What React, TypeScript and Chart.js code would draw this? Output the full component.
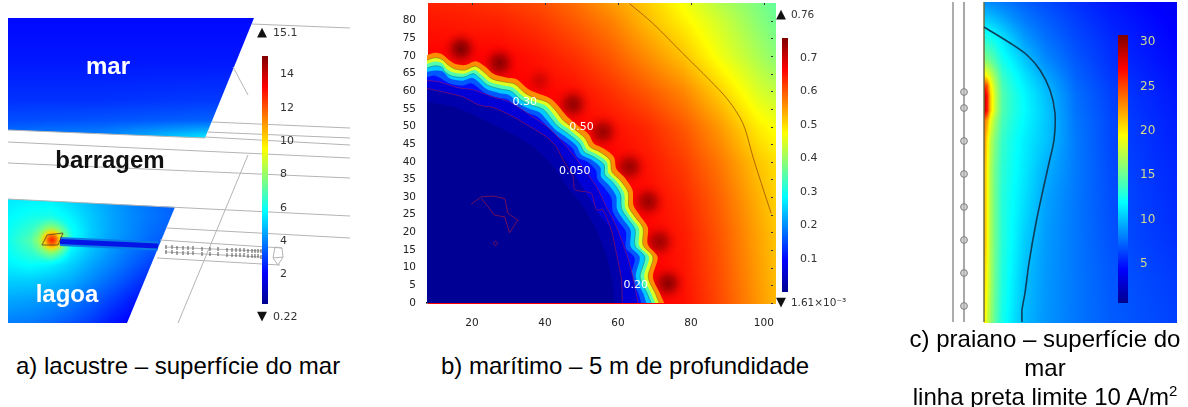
import React, { useEffect, useRef } from "react";
import { Chart, registerables } from "chart.js";

Chart.register(...registerables);

type Pt = { x: number; y: number };
const pts = (a: number[][]): Pt[] => a.map(([x, y]) => ({ x, y }));

/* ---------- Panel a: lacustre ---------- */
const marXs = [8, 100, 205, 254];
const marYs = [18, 60, 100, 120, 130, 138];
const marVals = [
  [2.2, 2.2, 2.2, 2.2],
  [2.4, 2.4, 2.4, 2.4],
  [2.8, 2.8, 2.9, 2.9],
  [3.2, 3.3, 3.5, 3.5],
  [3.6, 3.8, 4.6, 4.6],
  [3.8, 4.0, 5.6, 5.6],
];
const marOutline = [[8, 18], [254, 18], [205, 138], [8, 130]];

const lagoaXs = [8, 30, 50, 70, 90, 110, 130, 150, 175];
const lagoaYs = [199, 215, 230, 240, 250, 265, 280, 300, 323];
const lagoaVals = [
  [5.5, 5.6, 5.6, 5.2, 4.8, 4.4, 4.0, 3.7, 3.4],
  [5.7, 6.0, 6.1, 5.6, 5.0, 4.5, 4.1, 3.8, 3.5],
  [5.9, 6.6, 7.5, 6.0, 5.1, 4.5, 4.1, 3.7, 3.4],
  [6.0, 7.0, 9.0, 6.0, 5.0, 4.4, 4.0, 3.6, 3.2],
  [5.9, 6.6, 7.5, 5.7, 4.9, 4.3, 3.8, 3.4, 3.0],
  [5.6, 5.8, 5.6, 5.1, 4.5, 4.0, 3.5, 3.0, 2.6],
  [5.1, 5.1, 4.9, 4.6, 4.1, 3.6, 3.1, 2.6, 2.2],
  [4.5, 4.4, 4.2, 3.9, 3.5, 3.0, 2.5, 2.1, 1.8],
  [3.9, 3.8, 3.6, 3.3, 2.9, 2.4, 2.0, 1.7, 1.5],
];
const lagoaOutline = [[8, 199], [175, 207], [127, 323], [8, 323]];

const sceneLines = [
  [[252, 24], [350, 28]],
  [[233, 67], [248, 95]],
  [[212, 122], [350, 128]],
  [[207, 132], [350, 138]],
  [[205, 137], [350, 145]],
  [[8, 130], [205, 138]],
  [[8, 142], [350, 158]],
  [[8, 163], [350, 178]],
  [[8, 199], [350, 216]],
  [[167, 228], [350, 238]],
  [[248, 155], [178, 323]],
  [[160, 240], [282, 248]],
  [[157, 258], [280, 265]],
  [[165, 247], [261, 251]],
  [[165, 252], [261, 257]],
  [[282, 248], [283, 257], [278, 265], [273, 258], [275, 247], [282, 248]],
  [[273, 258], [283, 257]],
];
const electrodeRowA = [[166, 247], [172, 247], [177, 248], [183, 248], [188, 248], [193, 248], [202, 249], [210, 249], [218, 249], [227, 250], [232, 250], [236, 250], [240, 250], [244, 250], [248, 251], [252, 251], [255, 251], [258, 251], [261, 251]];
const electrodeRowB = [[166, 252], [172, 252], [177, 253], [183, 253], [188, 253], [193, 253], [202, 254], [210, 254], [218, 254], [227, 255], [232, 255], [236, 255], [240, 255], [244, 255], [248, 256], [252, 256], [255, 256], [258, 256], [261, 257]];
const tubeAxis = [[60, 241.5], [158, 246]];
const hotOutline = [[42, 245], [47, 235], [63, 233], [58, 245], [42, 245]];
const hotSpot = [{ x: 52, y: 240, r: 22 }];

/* ---------- Panel b: marítimo ---------- */
const fieldXs = [8, 18, 28, 38, 48, 58, 68, 78, 88, 98, 103];
const fieldYs = [0, 10, 20, 30, 40, 50, 60, 70, 80, 85];
const fieldVals = [
  [0.67, 0.67, 0.67, 0.67, 0.67, 0.67, 0.67, 0.655, 0.61, 0.555, 0.53],
  [0.67, 0.67, 0.67, 0.67, 0.67, 0.67, 0.67, 0.65, 0.605, 0.55, 0.525],
  [0.67, 0.67, 0.67, 0.67, 0.67, 0.67, 0.665, 0.645, 0.6, 0.545, 0.52],
  [0.67, 0.67, 0.67, 0.67, 0.67, 0.67, 0.66, 0.635, 0.59, 0.535, 0.51],
  [0.67, 0.67, 0.67, 0.67, 0.67, 0.665, 0.65, 0.62, 0.575, 0.52, 0.5],
  [0.67, 0.67, 0.67, 0.67, 0.665, 0.655, 0.635, 0.6, 0.55, 0.49, 0.47],
  [0.67, 0.67, 0.67, 0.665, 0.655, 0.63, 0.6, 0.565, 0.51, 0.45, 0.43],
  [0.665, 0.665, 0.665, 0.65, 0.63, 0.6, 0.56, 0.52, 0.465, 0.415, 0.39],
  [0.65, 0.645, 0.64, 0.625, 0.6, 0.57, 0.525, 0.485, 0.44, 0.39, 0.37],
  [0.64, 0.635, 0.625, 0.61, 0.585, 0.55, 0.515, 0.47, 0.42, 0.38, 0.36],
];
const spots = [
  { x: 17, y: 72, r: 20 }, { x: 27.6, y: 68, r: 20 }, { x: 38.6, y: 63, r: 17 },
  { x: 47.7, y: 56.3, r: 20 }, { x: 55.9, y: 48.5, r: 20 }, { x: 63.2, y: 38.6, r: 20 },
  { x: 68.3, y: 28.7, r: 20 }, { x: 71.4, y: 17.4, r: 20 }, { x: 73.7, y: 5.6, r: 20 },
];
const spotStrength = [1, 0.9, 0.35, 0.85, 0.8, 0.8, 0.8, 0.75, 0.9];

const c60 = [[7.7, 70.2], [9.9, 70.9], [11.8, 70.5], [13.8, 68.8], [15.6, 67.7], [18.2, 67.4], [21, 68.5], [23.5, 67.1], [26, 64.9], [29.4, 63.9], [32.3, 63.4], [35.2, 60.8], [38, 59.4], [41.4, 58], [43.7, 55.8], [46, 52.9], [48.7, 50.6], [52, 47.8], [53.4, 45.2], [56.1, 43.8], [58.9, 41.4], [59.6, 38], [61.8, 35.6], [64, 32], [64.3, 27.6], [66, 24.8], [68.2, 21.4], [68.2, 16.6], [70.9, 13], [69.6, 7.4], [71.5, 2.8], [72.7, 0]];
const c50 = [[7.7, 68.8], [9.9, 69.5], [11.8, 69], [13.5, 67.4], [15.4, 66.3], [18.1, 66], [20.9, 67.1], [23, 65.7], [25.5, 63.5], [29, 62.6], [31.8, 62], [34.5, 59.5], [37.2, 58.1], [40.6, 56.9], [42.8, 54.7], [45, 51.8], [47.7, 49.6], [51, 46.7], [52.4, 44.2], [55.1, 42.8], [57.8, 40.5], [58.4, 37.1], [60.6, 34.8], [62.8, 31.4], [63, 27.2], [64.7, 24.4], [66.9, 21.2], [66.9, 16.4], [69.6, 13], [68.3, 7.4], [70.2, 2.8], [71.3, 0]];
const c40 = [[7.7, 67.7], [9.9, 68.4], [11.8, 67.9], [13, 66.4], [15, 65.3], [18, 65], [20.7, 66], [22.5, 64.7], [25, 62.6], [28.6, 61.6], [31.3, 61], [34, 58.6], [36.6, 57.2], [40, 56], [42, 53.9], [44.2, 51], [47, 48.9], [50.2, 46], [51.6, 43.5], [54.3, 42.1], [57, 39.9], [57.4, 36.8], [59.6, 34.5], [61.7, 31.1], [62, 27], [63.6, 24.2], [65.8, 21], [65.8, 16.3], [68.5, 13], [67.2, 7.4], [69.1, 2.8], [70.2, 0]];
const c29 = [[7.7, 66.6], [9.9, 67.2], [11.8, 66.8], [12.6, 65.5], [14.6, 64.3], [17.8, 64], [20.4, 65], [22, 63.8], [24.4, 61.7], [28, 60.6], [30.8, 60], [33.4, 57.6], [36, 56.2], [39.4, 55], [41.2, 53], [43.4, 50.2], [46.2, 48.1], [49.4, 45.3], [50.8, 42.8], [53.4, 41.4], [56.2, 39.2], [56.4, 36.4], [58.6, 34.2], [60.7, 30.8], [61, 26.8], [62.6, 24], [64.7, 20.8], [64.7, 16.2], [67.4, 13], [66.1, 7.4], [68, 2.8], [69.1, 0]];
const c20 = [[7.7, 65.5], [10, 65.9], [12, 65.6], [14, 63.6], [17.5, 63], [20, 63.8], [21.6, 62.8], [24, 60.6], [27.4, 59.5], [30.2, 58.9], [32.8, 56.6], [35.4, 55.2], [38.6, 54], [40.4, 52], [42.6, 49.4], [45.4, 47.3], [48.6, 44.6], [50, 42], [52.6, 40.7], [55.2, 38.4], [55.4, 35.8], [57.4, 33.6], [59.5, 30.4], [59.8, 26.5], [61.4, 23.8], [63.5, 20.6], [63.5, 16], [66, 13], [64.9, 7.4], [66.9, 2.8], [67.8, 0]];
const c12 = [[7.7, 64], [10, 64.4], [14, 62.2], [17.5, 61.6], [20, 62.2], [23.5, 59.6], [27, 58.2], [30, 57.6], [32, 55.5], [35, 54], [38, 52.8], [40, 50.8], [42, 48.4], [44.6, 46.3], [47.6, 43.8], [49, 41.2], [51.6, 40], [54, 37.6], [54.4, 35], [56.2, 32.8], [58.2, 29.8], [58.6, 26], [60, 23.4], [62.2, 20.2], [62.2, 15.6], [64.6, 12.7], [63.6, 7.4], [65.6, 2.8], [66.4, 0]];
const c09 = [[7.7, 63.1], [11.2, 62.6], [16.2, 61], [20.3, 60.4], [25.8, 58.4], [30.3, 57], [36.7, 52.7], [41.3, 49.4], [45.9, 44.3], [49.5, 39.6], [54.1, 33], [56.8, 27.3], [59.6, 21.6], [62.3, 14.1], [64.1, 7.5], [65.5, 0]];
const c05 = [[7.7, 60.8], [12.1, 59.8], [17.6, 58.4], [22.1, 56], [25.8, 55.4], [31.3, 52.8], [35.9, 50], [40.4, 47.1], [43.1, 44.3], [46, 40], [49, 35], [52, 30], [55, 25], [58.2, 20.7], [59.6, 14.1], [61, 6.6], [61.2, 0]];
const c02 = [[7.7, 57], [15, 55.5], [22, 52.5], [30, 48.5], [37, 44], [42, 39], [46, 33], [50, 28], [54, 21], [57, 13], [58.5, 6], [59, 0]];
const contourFills = [
  { line: c60, level: 0.56 }, { line: c50, level: 0.45 }, { line: c40, level: 0.345 },
  { line: c29, level: 0.245 }, { line: c20, level: 0.16 }, { line: c12, level: 0.105 },
  { line: c09, level: 0.06 }, { line: c05, level: 0.025 }, { line: c02, level: 0.004 },
];
const redLine050 = [[7.7, 60.8], [12.1, 59.8], [17.6, 58.4], [22.1, 56], [25.8, 55.4], [31.3, 52.8], [35.9, 50], [40.4, 47.1], [43.1, 44.3], [45, 40.5], [47.7, 35.8], [48.2, 32.1], [52.7, 31.1], [54.1, 26.4], [55.9, 26.4], [58.2, 20.7], [59.6, 14.1], [61, 6.6], [61.2, 0.4]];
const islandLine = [[19.8, 28], [22.6, 30.1], [25.8, 30.3], [29, 29.6], [29.9, 25.4], [32.6, 23.5], [30.3, 19.9], [29, 24.4], [26.2, 24.9], [24.4, 27.3], [22.6, 29.6]];
const islandLoop = [[25.8, 16.9], [26.5, 17.6], [27.1, 16.9], [26.5, 16.2], [25.8, 16.9]];
const outerArc = [[63.2, 84.8], [69.6, 79.2], [77.8, 70.7], [85.1, 63.2], [90.2, 57.5], [94.3, 50.8], [97, 41.4], [99.3, 33.9], [102, 25.4]];
const xTicksB = [20, 40, 60, 80, 100];
const yTicksB = [0, 5, 10, 15, 20, 25, 30, 35, 40, 45, 50, 55, 60, 65, 70, 75, 80];

/* ---------- Panel c: praiano ---------- */
const beachXs = [984, 987, 990, 995, 1002, 1012, 1025, 1045, 1075, 1110, 1176];
const beachYs = [2, 20, 40, 60, 75, 85, 95, 110, 120, 140, 170, 200, 240, 280, 322];
const beachVals = [
  [8.5, 8.5, 8.4, 8.3, 8, 7.7, 7.2, 6.6, 5.8, 5, 4],
  [10.5, 10.5, 10.3, 10, 9.5, 8.8, 8, 7.2, 6.2, 5.3, 4.2],
  [13, 13, 12.7, 12.2, 11.3, 10.3, 9, 7.8, 6.6, 5.6, 4.4],
  [16, 15.5, 15, 14, 12.5, 11.5, 10.2, 8.5, 7, 5.8, 4.6],
  [20, 19, 18, 16, 13.5, 12.3, 11, 9.3, 7.3, 6, 4.8],
  [26, 24, 20, 17, 14, 12.7, 11.4, 9.8, 7.5, 6.2, 4.9],
  [29, 26, 21, 17.5, 14.3, 13, 11.7, 10.1, 7.7, 6.3, 5],
  [29, 26, 21, 17.5, 14.3, 13, 11.8, 10.3, 7.8, 6.4, 5.1],
  [24, 22, 19, 16.5, 14, 12.8, 11.7, 10.3, 7.9, 6.5, 5.2],
  [23, 20, 17.5, 15.5, 13.5, 12.4, 11.4, 10.2, 8, 6.5, 5.3],
  [22, 19.5, 17, 15, 13.2, 12.2, 11.2, 9.6, 8, 6.6, 5.5],
  [22, 19.5, 17, 15, 13, 12, 10.9, 9.2, 7.9, 6.7, 5.6],
  [22, 19.5, 17, 15, 13, 11.8, 10.4, 9, 7.9, 6.8, 5.8],
  [21, 19, 17, 14.8, 12.8, 11.5, 10, 8.9, 7.9, 7, 6.1],
  [20, 18, 16.5, 14.5, 12.5, 11.2, 9.8, 8.8, 7.9, 7.1, 6.3],
];
const limit10 = [[984, 27], [1010, 43], [1027, 55], [1040, 70], [1050, 90], [1055, 113], [1054, 140], [1049, 163], [1043, 190], [1036, 223], [1029, 263], [1025, 293], [1022, 310], [1022, 322]];
const railA = [[953, 2], [953, 322]];
const railB = [[964, 2], [964, 322]];
const shoreEdge = [[984, 2], [984, 322]];
const wells = [[964, 92], [964, 108], [964, 141], [964, 174], [964, 207], [964, 240], [964, 273], [964, 306]];

/* ---------- Colour bars ---------- */
const barA = { min: 0.22, max: 15.1, ticks: [2, 4, 6, 8, 10, 12, 14] };
const barB = { min: 0.0016, max: 0.76, ticks: [0.1, 0.2, 0.3, 0.4, 0.5, 0.6, 0.7] };
const barC = { min: 0.6, max: 30.8, ticks: [5, 10, 15, 20, 25, 30] };

/* ---------- Captions ---------- */
const captionA = "a) lacustre – superfície do mar";
const captionB = "b) marítimo – 5 m de profundidade";
const captionC1 = "c) praiano – superfície do";
const captionC2 = "mar";
const captionC3 = "linha preta limite 10 A/m";

const tickFont = '"DejaVu Sans"';

function jetRGB(t: number): [number, number, number] {
  const stops: [number, number[]][] = [
    [0, [0, 0, 143]], [0.125, [0, 0, 255]], [0.375, [0, 255, 255]],
    [0.625, [255, 255, 0]], [0.875, [255, 0, 0]], [1, [128, 0, 0]],
  ];
  const c = Math.max(0, Math.min(1, t));
  for (let i = 1; i < stops.length; i++) {
    if (c <= stops[i][0]) {
      const [a, ca] = stops[i - 1];
      const [b, cb] = stops[i];
      const f = (c - a) / (b - a);
      return [0, 1, 2].map((k) => Math.round(ca[k] + (cb[k] - ca[k]) * f)) as [number, number, number];
    }
  }
  return [128, 0, 0];
}
const jetCss = (t: number, alpha = 1) => {
  const [r, g, b] = jetRGB(t);
  return `rgba(${r},${g},${b},${alpha})`;
};

function seg(arr: number[], v: number): [number, number] {
  let i = 0;
  while (i < arr.length - 2 && v > arr[i + 1]) i++;
  const f = (v - arr[i]) / (arr[i + 1] - arr[i]);
  return [i, Math.max(0, Math.min(1, f))];
}

const scenePlugin = {
  id: "scene",
  beforeDatasetsDraw(chart: any, _a: any, opts: any) {
    const { x: sx, y: sy } = chart.scales;
    const ctx = chart.ctx;
    for (const r of opts.regions || []) {
      const xa = sx.getPixelForValue(r.xs[0]);
      const xb = sx.getPixelForValue(r.xs[r.xs.length - 1]);
      const ya = sy.getPixelForValue(r.ys[0]);
      const yb = sy.getPixelForValue(r.ys[r.ys.length - 1]);
      const x0 = Math.floor(Math.min(xa, xb));
      const y0 = Math.floor(Math.min(ya, yb));
      const w = Math.ceil(Math.abs(xb - xa)) + 1;
      const h = Math.ceil(Math.abs(yb - ya)) + 1;
      const off = document.createElement("canvas");
      off.width = w;
      off.height = h;
      const oc = off.getContext("2d")!;
      const img = oc.createImageData(w, h);
      for (let py = 0; py < h; py++) {
        const [j, fy] = seg(r.ys, sy.getValueForPixel(y0 + py));
        for (let px = 0; px < w; px++) {
          const [i, fx] = seg(r.xs, sx.getValueForPixel(x0 + px));
          const v =
            (r.vals[j][i] * (1 - fx) + r.vals[j][i + 1] * fx) * (1 - fy) +
            (r.vals[j + 1][i] * (1 - fx) + r.vals[j + 1][i + 1] * fx) * fy;
          const [cr, cg, cb] = jetRGB((v - r.min) / (r.max - r.min));
          const o = (py * w + px) * 4;
          img.data[o] = cr;
          img.data[o + 1] = cg;
          img.data[o + 2] = cb;
          img.data[o + 3] = 255;
        }
      }
      oc.putImageData(img, 0, 0);
      ctx.save();
      if (r.clip) {
        ctx.beginPath();
        r.clip.forEach(([x, y]: number[], k: number) => {
          const X = sx.getPixelForValue(x);
          const Y = sy.getPixelForValue(y);
          if (k) ctx.lineTo(X, Y);
          else ctx.moveTo(X, Y);
        });
        ctx.closePath();
        ctx.clip();
      }
      ctx.drawImage(off, x0, y0);
      ctx.restore();
    }
  },
  afterDatasetsDraw(chart: any, _a: any, opts: any) {
    const { x: sx, y: sy } = chart.scales;
    const ctx = chart.ctx;
    for (const l of opts.labels || []) {
      ctx.save();
      ctx.font = l.font;
      ctx.fillStyle = l.color;
      ctx.textAlign = l.align || "center";
      ctx.textBaseline = "middle";
      ctx.fillText(l.text, sx.getPixelForValue(l.x), sy.getPixelForValue(l.y));
      ctx.restore();
    }
    if (opts.mirrorTicks) {
      ctx.save();
      ctx.strokeStyle = "#333";
      ctx.lineWidth = 1;
      const a = chart.chartArea;
      ctx.beginPath();
      sx.ticks.forEach((t: any) => {
        const X = Math.round(sx.getPixelForValue(t.value)) + 0.5;
        ctx.moveTo(X, a.top);
        ctx.lineTo(X, a.top + 2);
      });
      sy.ticks.forEach((t: any) => {
        const Y = Math.round(sy.getPixelForValue(t.value)) + 0.5;
        ctx.moveTo(a.right, Y);
        ctx.lineTo(a.right - 2, Y);
      });
      ctx.stroke();
      ctx.restore();
    }
  },
};
Chart.register(scenePlugin as any);

const lineDs = (data: number[][], color: string, width: number, extra: any = {}) => ({
  type: "line",
  data: pts(data),
  borderColor: color,
  borderWidth: width,
  pointRadius: 0,
  fill: false,
  tension: 0,
  ...extra,
});
const ordered = (list: any[]) => list.map((d, i) => ({ ...d, order: list.length - i }));

const hiddenScales = (x0: number, x1: number, y0: number, y1: number) => ({
  x: { type: "linear", display: false, min: x0, max: x1 },
  y: { type: "linear", display: false, min: y0, max: y1, reverse: true },
});

const fitAxis = (size: { width?: number; height?: number }) => (s: any) => {
  if (size.width) s.width = size.width;
  if (size.height) s.height = size.height;
  s.paddingTop = 0;
  s.paddingBottom = 0;
  s.paddingLeft = 0;
  s.paddingRight = 0;
};

const greyLine = "#b4b4b4";

const radial = (c: any, stops: [number, string][]) => {
  if (!c.raw) return "transparent";
  const X = c.chart.scales.x.getPixelForValue(c.raw.x);
  const Y = c.chart.scales.y.getPixelForValue(c.raw.y);
  if (!Number.isFinite(X) || !Number.isFinite(Y)) return "transparent";
  const g = c.chart.ctx.createRadialGradient(X, Y, 0, X, Y, c.raw.r);
  stops.forEach(([s, col]) => g.addColorStop(s, col));
  return g;
};

const configA = () => ({
  type: "line",
  data: {
    datasets: ordered([
      ...sceneLines.map((l) => lineDs(l, greyLine, 1)),
      {
        type: "bubble",
        data: hotSpot,
        borderWidth: 0,
        backgroundColor: (c: any) =>
          radial(c, [
            [0, "rgba(250,30,0,1)"],
            [0.18, "rgba(255,100,0,1)"],
            [0.36, "rgba(255,215,0,0.95)"],
            [0.62, "rgba(150,255,90,0.55)"],
            [1, "rgba(100,255,170,0)"],
          ]),
      },
      lineDs(tubeAxis, "#0a7ce8", 9),
      lineDs(tubeAxis, "#0414e6", 5),
      lineDs(hotOutline, "rgba(90,60,30,.8)", 1),
      lineDs(electrodeRowA, "transparent", 0, { pointRadius: 2, pointStyle: "line", rotation: 90, pointBorderColor: "#555", pointBorderWidth: 1, showLine: false }),
      lineDs(electrodeRowB, "transparent", 0, { pointRadius: 2, pointStyle: "line", rotation: 90, pointBorderColor: "#555", pointBorderWidth: 1, showLine: false }),
    ]),
  },
  options: {
    responsive: false,
    animation: false,
    events: [],
    layout: { padding: 0, autoPadding: false },
    scales: hiddenScales(0, 360, 10, 330),
    plugins: {
      legend: { display: false },
      tooltip: { enabled: false },
      scene: {
        regions: [
          { xs: marXs, ys: marYs, vals: marVals, min: barA.min, max: barA.max, clip: marOutline },
          { xs: lagoaXs, ys: lagoaYs, vals: lagoaVals, min: barA.min, max: barA.max, clip: lagoaOutline },
        ],
        labels: [
          { text: "mar", x: 108, y: 67, font: 'bold 24px "Liberation Sans"', color: "#fff" },
          { text: "barragem", x: 110, y: 161, font: 'bold 24px "Liberation Sans"', color: "#111" },
          { text: "lagoa", x: 67, y: 295, font: 'bold 24px "Liberation Sans"', color: "#fff" },
          { text: "▲", x: 262, y: 33, font: `13px ${tickFont}`, color: "#111" },
          { text: "15.1", x: 273, y: 33, font: `11px ${tickFont}`, color: "#333", align: "left" },
          { text: "▼", x: 262, y: 317, font: `13px ${tickFont}`, color: "#111" },
          { text: "0.22", x: 273, y: 317, font: `11px ${tickFont}`, color: "#333", align: "left" },
        ],
      },
    },
  },
});

const configB = () => ({
  type: "line",
  data: {
    datasets: ordered([
      {
        type: "bubble",
        data: spots,
        borderWidth: 0,
        backgroundColor: (c: any) => {
          const s = spotStrength[c.dataIndex] ?? 0;
          return radial(c, [
            [0, `rgba(125,0,0,${s})`],
            [0.35, `rgba(150,0,0,${s * 0.8})`],
            [0.7, `rgba(200,0,0,${s * 0.3})`],
            [1, "rgba(240,0,0,0)"],
          ]);
        },
      },
      ...contourFills.map((c) =>
        lineDs(c.line, "transparent", 0, {
          fill: "origin",
          backgroundColor: jetCss(c.level / 0.76),
          tension: 0.3,
        })
      ),
      lineDs(c50, "rgba(110,100,20,.7)", 0.7, { tension: 0.3 }),
      lineDs(c29, "rgba(20,110,110,.7)", 0.7, { tension: 0.3 }),
      lineDs(c09, "rgba(170,20,90,.7)", 0.8, { tension: 0.3 }),
      lineDs(redLine050, "rgba(170,20,70,.75)", 0.8, { tension: 0.2 }),
      lineDs(islandLine, "rgba(175,25,60,.8)", 0.8),
      lineDs(islandLoop, "rgba(175,25,60,.8)", 0.8),
      lineDs(outerArc, "rgba(140,60,0,.85)", 0.8, { tension: 0.3 }),
    ]),
  },
  options: {
    responsive: false,
    animation: false,
    events: [],
    layout: { padding: { top: 3, right: 87, left: 0, bottom: 0 }, autoPadding: false },
    scales: {
      x: {
        type: "linear",
        min: 7.7,
        max: 102.5,
        afterBuildTicks: (s: any) => { s.ticks = xTicksB.map((value) => ({ value })); },
        afterFit: fitAxis({ height: 32 }),
        grid: { display: false },
        border: { display: true, color: "#111", width: 1.5 },
        ticks: { color: "#222", font: { family: tickFont, size: 10.5 }, padding: 6, maxRotation: 0, autoSkip: false },
      },
      y: {
        type: "linear",
        min: 0,
        max: 85,
        afterBuildTicks: (s: any) => { s.ticks = yTicksB.map((value) => ({ value })); },
        afterFit: fitAxis({ width: 27 }),
        grid: { display: false },
        border: { display: false },
        ticks: { color: "#222", font: { family: tickFont, size: 10.5 }, padding: 3, autoSkip: false },
      },
    },
    plugins: {
      legend: { display: false },
      tooltip: { enabled: false },
      scene: {
        mirrorTicks: true,
        regions: [{ xs: fieldXs, ys: fieldYs, vals: fieldVals, min: barB.min, max: barB.max }],
        labels: [
          { text: "0.30", x: 34.5, y: 57, font: `11px ${tickFont}`, color: "#fff" },
          { text: "0.50", x: 50, y: 49.7, font: `11px ${tickFont}`, color: "#fff" },
          { text: "0.050", x: 48.2, y: 37.4, font: `11px ${tickFont}`, color: "#fff" },
          { text: "0.20", x: 64.9, y: 5.1, font: `11px ${tickFont}`, color: "#fff" },
          { text: "▲", x: 104.7, y: 81.6, font: `13px ${tickFont}`, color: "#111" },
          { text: "0.76", x: 107.4, y: 81.6, font: `10.5px ${tickFont}`, color: "#333", align: "left" },
          { text: "▼", x: 104.7, y: 0, font: `13px ${tickFont}`, color: "#111" },
          { text: "1.61×10⁻³", x: 107.4, y: 0, font: `10.5px ${tickFont}`, color: "#333", align: "left" },
        ],
      },
    },
  },
});

const configC = () => ({
  type: "line",
  data: {
    datasets: ordered([
      lineDs(railA, "#adadad", 2),
      lineDs(railB, "#a8a8a8", 2),
      lineDs(shoreEdge, "rgba(110,110,60,.7)", 1),
      lineDs(wells, "transparent", 0, { showLine: false, pointRadius: 3.4, pointStyle: "circle", pointBackgroundColor: "rgba(190,190,190,.7)", pointBorderColor: "#808080", pointBorderWidth: 1 }),
      lineDs(limit10, "#0f3d5c", 1.6, { tension: 0.3 }),
    ]),
  },
  options: {
    responsive: false,
    animation: false,
    events: [],
    layout: { padding: 0, autoPadding: false },
    scales: hiddenScales(945, 1180, 0, 325),
    plugins: {
      legend: { display: false },
      tooltip: { enabled: false },
      scene: {
        regions: [{ xs: beachXs, ys: beachYs, vals: beachVals, min: barC.min, max: barC.max }],
      },
    },
  },
});

const colorBarConfig = (b: any, color: string, size: number, pad: number, axisW: number) => ({
  type: "bar",
  data: {
    labels: [""],
    datasets: [
      {
        data: [[b.min, b.max]],
        barPercentage: 1,
        categoryPercentage: 1,
        borderWidth: 0,
        backgroundColor: (c: any) => {
          const a = c.chart.chartArea;
          if (!a) return "#00f";
          const g = c.chart.ctx.createLinearGradient(0, a.bottom, 0, a.top);
          for (const s of [0, 0.125, 0.25, 0.375, 0.5, 0.625, 0.75, 0.875, 1]) g.addColorStop(s, jetCss(s));
          return g;
        },
      },
    ],
  },
  options: {
    responsive: false,
    animation: false,
    events: [],
    layout: { padding: { top: pad, bottom: pad, left: 0, right: 0 }, autoPadding: false },
    scales: {
      x: { display: false },
      y: {
        position: "right",
        min: b.min,
        max: b.max,
        afterBuildTicks: (s: any) => { s.ticks = b.ticks.map((value: number) => ({ value })); },
        afterFit: fitAxis({ width: axisW }),
        grid: { display: false },
        border: { display: false },
        ticks: { color, font: { family: tickFont, size }, padding: 4, autoSkip: false },
      },
    },
    plugins: { legend: { display: false }, tooltip: { enabled: false }, scene: {} },
  },
});

function Panel({ make, style }: { make: () => any; style: React.CSSProperties }) {
  const ref = useRef<HTMLCanvasElement>(null);
  useEffect(() => {
    const chart = new Chart(ref.current!, make());
    return () => chart.destroy();
  }, [make]);
  return (
    <canvas
      ref={ref}
      width={style.width as number}
      height={style.height as number}
      style={{ position: "absolute", display: "block", filter: "blur(0.6px)", ...style }}
    />
  );
}

const makeBarA = () => colorBarConfig(barA, "#333", 11, 6, 34);
const makeBarB = () => colorBarConfig(barB, "#333", 11, 6, 34);
const makeBarC = () => colorBarConfig(barC, "#d3d98f", 12, 6, 40);

const captionStyle: React.CSSProperties = {
  position: "absolute",
  font: '24px "Liberation Sans", Arial, sans-serif',
  color: "#000",
  whiteSpace: "nowrap",
  lineHeight: "29px",
};

export default function App() {
  return (
    <div style={{ position: "absolute", left: 0, top: 0, width: 1188, height: 407, background: "#fff", overflow: "hidden" }}>
      <Panel make={configA} style={{ left: 0, top: 10, width: 360, height: 320 }} />
      <Panel make={makeBarA} style={{ left: 262, top: 50, width: 40, height: 260 }} />
      <Panel make={configB} style={{ left: 400, top: 0, width: 460, height: 335 }} />
      <Panel make={makeBarB} style={{ left: 782, top: 32, width: 40, height: 266 }} />
      <Panel make={configC} style={{ left: 945, top: 0, width: 235, height: 325 }} />
      <Panel make={makeBarC} style={{ left: 1118, top: 29, width: 50, height: 280 }} />
      <div style={{ ...captionStyle, left: 16, top: 351 }}>{captionA}</div>
      <div style={{ ...captionStyle, left: 441, top: 351 }}>{captionB}</div>
      <div style={{ ...captionStyle, left: 895, width: 300, top: 324, textAlign: "center" }}>
        {captionC1}
        <br />
        {captionC2}
        <br />
        {captionC3}
        <sup style={{ fontSize: 15, lineHeight: 0 }}>2</sup>
      </div>
    </div>
  );
}
